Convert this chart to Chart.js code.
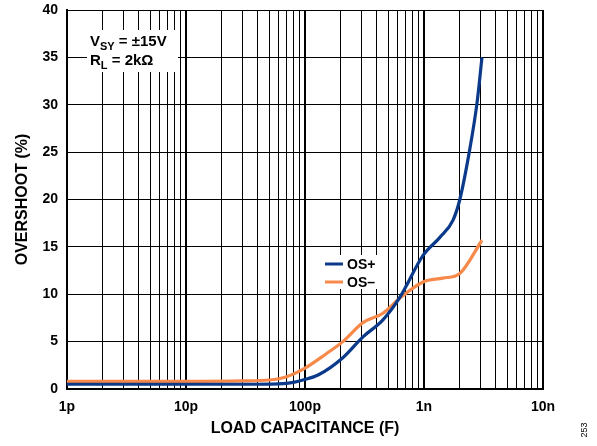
<!DOCTYPE html>
<html><head><meta charset="utf-8">
<script src="https://cdn.jsdelivr.net/npm/chart.js@4.4.1/dist/chart.umd.min.js"></script>
<style>html,body{margin:0;padding:0;background:#fff}</style>
</head><body>
<canvas id="c" width="597" height="446"></canvas>
<script>
// Load capacitance in pF
const osPlusC   = [1, 10, 30, 60, 80, 96, 130, 208, 307, 452, 628, 982, 1360, 1750, 2000, 2440, 2790, 3070];
const osPlusV   = [0.5, 0.5, 0.5, 0.55, 0.7, 0.95, 1.5, 3.3, 5.5, 7.3, 9.7, 14.1, 16.0, 17.8, 20, 25.5, 30.2, 35];
const osMinusC  = [1, 10, 30, 50, 70, 100, 150, 208, 307, 452, 628, 982, 1440, 2000, 3070];
const osMinusV  = [0.8, 0.8, 0.85, 0.95, 1.3, 2.2, 3.7, 5.0, 7.0, 8.0, 9.6, 11.3, 11.7, 12.2, 15.7];
const xDecades  = [1, 10, 100, 1000, 10000];
const xTickLabels = ['1p', '10p', '100p', '1n', '10n'];
const yTicks = [0, 5, 10, 15, 20, 25, 30, 35, 40];

const FONT = 'Arial, "Liberation Sans", sans-serif';
const xTickVals = [];
xDecades.forEach((d, i) => {
  if (i < xDecades.length - 1) { for (let m = 1; m < 10; m++) xTickVals.push(d * m); }
  else xTickVals.push(d);
});
function isDecade(v) { return xDecades.some(d => Math.abs(v - d) < 1e-9 * d); }

const overlay = {
  id: 'overlay',
  afterDatasetsDraw(chart) {
    const ctx = chart.ctx;
    ctx.save();
    // annotation box
    ctx.fillStyle = '#fff';
    ctx.fillRect(87, 30, 91, 42);
    ctx.fillStyle = '#000';
    ctx.textBaseline = 'alphabetic';
    ctx.textAlign = 'left';
    ctx.font = 'bold 15px ' + FONT;
    let x = 90;
    ctx.fillText('V', x, 46); x += ctx.measureText('V').width;
    ctx.font = 'bold 11px ' + FONT;
    ctx.fillText('SY', x, 50); x += ctx.measureText('SY').width;
    ctx.font = 'bold 15px ' + FONT;
    ctx.fillText(' = \u00B115V', x, 46);
    x = 90;
    ctx.fillText('R', x, 65); x += ctx.measureText('R').width;
    ctx.font = 'bold 11px ' + FONT;
    ctx.fillText('L', x, 69); x += ctx.measureText('L').width;
    ctx.font = 'bold 15px ' + FONT;
    ctx.fillText(' = 2k\u03A9', x, 65);
    // legend
    ctx.fillStyle = '#fff';
    ctx.fillRect(322, 255, 56, 34);
    const items = chart.data.datasets;
    items.forEach((ds, i) => {
      const y = 264 + i * 18;
      ctx.strokeStyle = ds.borderColor;
      ctx.lineWidth = 3;
      ctx.beginPath(); ctx.moveTo(325, y); ctx.lineTo(343, y); ctx.stroke();
      ctx.fillStyle = '#000';
      ctx.font = 'bold 14px ' + FONT;
      ctx.textBaseline = 'middle';
      ctx.fillText(ds.label, 347, y + 1);
    });
    // figure number
    ctx.font = '9px ' + FONT;
    ctx.translate(585, 430);
    ctx.rotate(-Math.PI / 2);
    ctx.textAlign = 'center';
    ctx.textBaseline = 'middle';
    ctx.fillStyle = '#000';
    ctx.fillText('253', 0, 0);
    ctx.restore();
  }
};

new Chart(document.getElementById('c'), {
  type: 'line',
  data: {
    datasets: [
      { label: 'OS+', data: osPlusC.map((c, i) => ({x: c, y: osPlusV[i]})),
        borderColor: '#0b3a8a', borderWidth: 3.2, pointRadius: 0, cubicInterpolationMode: 'monotone', fill: false },
      { label: 'OS\u2013', data: osMinusC.map((c, i) => ({x: c, y: osMinusV[i]})),
        borderColor: '#f7894a', borderWidth: 3.2, pointRadius: 0, cubicInterpolationMode: 'monotone', fill: false }
    ]
  },
  options: {
    responsive: false, animation: false,
    layout: { padding: { left: 0, right: 54, top: 10, bottom: 0 } },
    plugins: { legend: { display: false }, tooltip: { enabled: false } },
    scales: {
      x: {
        type: 'logarithmic', min: 1, max: 10000,
        afterBuildTicks(s) { s.ticks = xTickVals.map(v => ({ value: v })); },
        afterFit(s) { s.height = 57; s.paddingLeft = 0; s.paddingRight = 0; },
        ticks: { autoSkip: false, maxRotation: 0, padding: 10, color: '#000',
          font: { family: FONT, size: 14, weight: 'bold' },
          callback(v) { const i = xDecades.findIndex(d => Math.abs(v - d) < 1e-9 * d); return i >= 0 ? xTickLabels[i] : ''; } },
        grid: { color: '#000', drawTicks: false,
          lineWidth(c) { return c.tick && isDecade(c.tick.value) ? 2 : 1; } },
        border: { color: '#000', width: 2 },
        title: { display: true, text: 'LOAD CAPACITANCE (F)', color: '#000',
          font: { family: FONT, size: 16, weight: 'bold' }, padding: { top: 0, bottom: 8 } }
      },
      y: {
        min: 0, max: 40,
        afterBuildTicks(s) { s.ticks = yTicks.map(v => ({ value: v })); },
        afterFit(s) { s.width = 67; s.paddingTop = 0; s.paddingBottom = 0; },
        ticks: { padding: 9, color: '#000', font: { family: FONT, size: 14, weight: 'bold' } },
        grid: { color: '#000', lineWidth: 1, drawTicks: false },
        border: { color: '#000', width: 2 },
        title: { display: true, text: 'OVERSHOOT (%)', color: '#000',
          font: { family: FONT, size: 16, weight: 'bold' }, padding: { top: 13, bottom: 0 } }
      }
    }
  },
  plugins: [overlay]
});
</script>
</body></html>
